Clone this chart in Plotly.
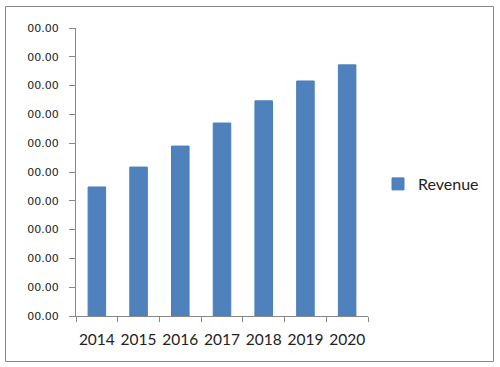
import plotly.graph_objects as go

years = ["2014", "2015", "2016", "2017", "2018", "2019", "2020"]
revenue = [4.48, 5.17, 5.9, 6.7, 7.47, 8.16, 8.72]
ytick_vals = [0, 1, 2, 3, 4, 5, 6, 7, 8, 9, 10]
ytick_text = ["00.00"] * 11

W, H = 500, 367
L, R, T, B = 76, 132, 28, 51
pw, ph = W - L - R, H - T - B

def px_x(x):
    return (x - L) / pw

def px_y(y):
    return (H - B - y) / ph

fig = go.Figure()
fig.add_trace(go.Bar(
    x=years, y=revenue, name="Revenue",
    marker=dict(color="#4F81BD", line=dict(color="#4A7EBB", width=1)),
    showlegend=True,
))

fig.update_layout(
    width=W, height=H,
    margin=dict(l=L, r=R, t=T, b=B, pad=0, autoexpand=False),
    paper_bgcolor="white", plot_bgcolor="white",
    bargap=0.58,
    showlegend=True,
    legend=dict(x=px_x(378), y=px_y(184), xanchor="left", yanchor="middle",
                font=dict(family="Lato, Open Sans, sans-serif", size=16, color="#222"),
                bgcolor="rgba(0,0,0,0)", itemwidth=30),
    xaxis=dict(
        type="category", tickson="boundaries", tickangle=0,
        showline=True, linecolor="#888", linewidth=1,
        ticks="outside", ticklen=5, tickcolor="#888", ticklabelstandoff=9,
        tickfont=dict(family="Lato, Open Sans, sans-serif", size=15.5, color="#222"),
        showgrid=False, zeroline=False, automargin=False,
    ),
    yaxis=dict(
        range=[0, 10], tickvals=ytick_vals, ticktext=ytick_text,
        showline=True, linecolor="#888", linewidth=1,
        ticks="outside", ticklen=6, tickcolor="#888", ticklabelstandoff=8,
        tickfont=dict(family="DejaVu Sans, sans-serif", size=11, color="#222"),
        showgrid=False, zeroline=False, automargin=False,
    ),
    shapes=[dict(type="rect", xref="paper", yref="paper",
                 x0=px_x(5.5), x1=px_x(493.5), y0=px_y(361.5), y1=px_y(6.5),
                 line=dict(color="#888", width=1), fillcolor="rgba(0,0,0,0)",
                 layer="below")],
)

fig.write_html("out.html", config={"displayModeBar": False},
               post_script="document.body.style.margin='0';document.body.style.overflow='hidden';")
